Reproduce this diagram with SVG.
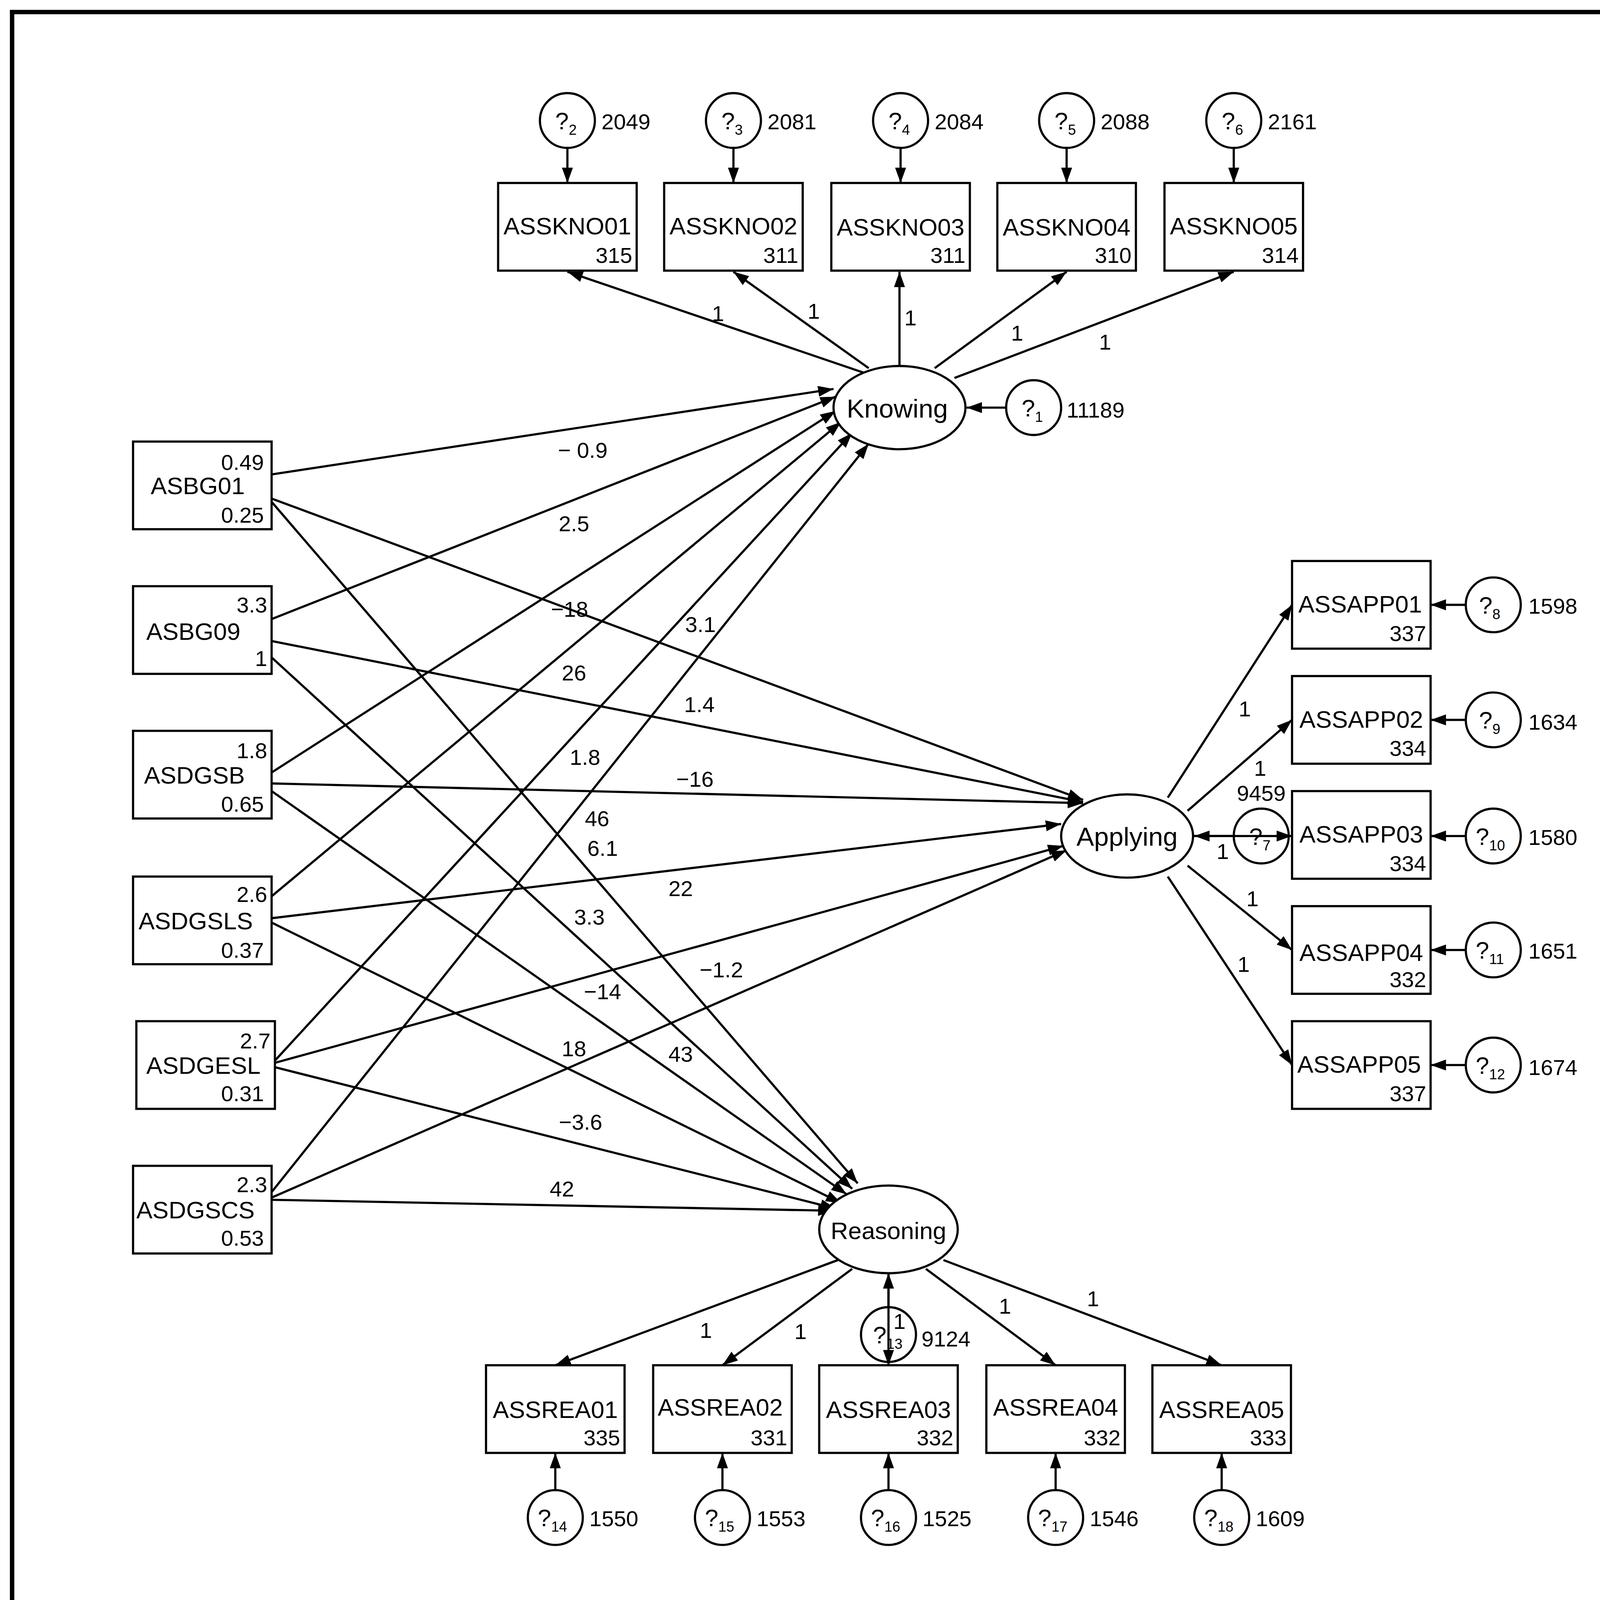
<svg xmlns="http://www.w3.org/2000/svg" width="4400" height="4140" viewBox="0 0 4400 4140">
<defs>
<marker id="ah" viewBox="0 0 14 10" refX="14" refY="5" markerWidth="14" markerHeight="10" markerUnits="userSpaceOnUse" orient="auto"><path d="M0,0 L14,5 L0,10 Z" fill="#000"/></marker>
</defs>
<style>
.b{fill:#fff;stroke:#000;stroke-width:2}
.t{font-family:"Liberation Sans",Arial,sans-serif;font-size:22px;fill:#000}
.L{font-size:24px}
.n{font-family:"Liberation Sans",Arial,sans-serif;font-size:20px;fill:#000}
.e{text-anchor:end}
.m{text-anchor:middle}
.c line{stroke:#000;stroke-width:2;marker-end:url(#ah)}
</style>
<rect width="4400" height="4140" fill="#fff"/>
<g transform="scale(2.815,2.805)">
<rect x="11" y="11" width="1543" height="1453" fill="none" stroke="#000" stroke-width="4"/>
<g class="c" id="connectors">
<line x1="516" y1="135" x2="516" y2="167"/><line x1="667" y1="135" x2="667" y2="167"/><line x1="819" y1="135" x2="819" y2="167"/><line x1="970" y1="135" x2="970" y2="167"/><line x1="1122" y1="135" x2="1122" y2="167"/>
<line x1="915" y1="372" x2="879" y2="372"/>
<line x1="785" y1="340" x2="516" y2="248"/><line x1="790" y1="336" x2="667" y2="248"/><line x1="818" y1="334" x2="818" y2="248"/><line x1="850" y1="336" x2="970" y2="248"/><line x1="868" y1="345" x2="1122" y2="248"/>
<line x1="1062" y1="728" x2="1175" y2="552"/><line x1="1080" y1="740" x2="1175" y2="657"/><line x1="1085" y1="763" x2="1175" y2="763"/><line x1="1122" y1="763" x2="1086" y2="763"/><line x1="1080" y1="790" x2="1175" y2="867"/><line x1="1062" y1="800" x2="1175" y2="972"/>
<line x1="1333" y1="552" x2="1301" y2="552"/><line x1="1333" y1="657" x2="1301" y2="657"/><line x1="1333" y1="763" x2="1301" y2="763"/><line x1="1333" y1="867" x2="1301" y2="867"/><line x1="1333" y1="972" x2="1301" y2="972"/>
<line x1="762" y1="1150" x2="505" y2="1246"/><line x1="775" y1="1158" x2="657" y2="1246"/><line x1="808" y1="1162" x2="808" y2="1246"/><line x1="842" y1="1158" x2="960" y2="1246"/><line x1="858" y1="1150" x2="1111" y2="1246"/>
<line x1="808" y1="1193" x2="808" y2="1162"/>
<line x1="505" y1="1360" x2="505" y2="1326"/><line x1="657" y1="1360" x2="657" y2="1326"/><line x1="808" y1="1360" x2="808" y2="1326"/><line x1="960" y1="1360" x2="960" y2="1326"/><line x1="1111" y1="1360" x2="1111" y2="1326"/>
<line x1="247" y1="433" x2="758" y2="355"/><line x1="247" y1="455" x2="985" y2="730"/><line x1="247" y1="458" x2="780" y2="1080"/>
<line x1="247" y1="565" x2="760" y2="362"/><line x1="247" y1="585" x2="985" y2="732"/><line x1="247" y1="600" x2="775" y2="1085"/>
<line x1="247" y1="705" x2="760" y2="375"/><line x1="247" y1="715" x2="985" y2="733"/><line x1="247" y1="722" x2="770" y2="1090"/>
<line x1="247" y1="818" x2="765" y2="385"/><line x1="247" y1="838" x2="965" y2="752"/><line x1="247" y1="842" x2="765" y2="1098"/>
<line x1="250" y1="968" x2="775" y2="395"/><line x1="250" y1="970" x2="967" y2="772"/><line x1="250" y1="974" x2="760" y2="1103"/>
<line x1="247" y1="1088" x2="790" y2="405"/><line x1="247" y1="1093" x2="970" y2="776"/><line x1="247" y1="1095" x2="758" y2="1105"/>
</g>
<g id="edge-labels" class="n m">
<text x="653" y="293">1</text><text x="740" y="291">1</text><text x="828" y="297">1</text><text x="925" y="311">1</text><text x="1005" y="319">1</text>
<text x="1132" y="654">1</text><text x="1146" y="708">1</text><text x="1112" y="784">1</text><text x="1139" y="827">1</text><text x="1131" y="887">1</text>
<text x="642" y="1221">1</text><text x="728" y="1222">1</text><text x="818" y="1213">1</text><text x="914" y="1199">1</text><text x="994" y="1192">1</text>
<text x="530" y="418">− 0.9</text><text x="522" y="485">2.5</text><text x="518" y="563">−18</text><text x="637" y="577">3.1</text><text x="522" y="621">26</text><text x="636" y="650">1.4</text><text x="532" y="698">1.8</text><text x="632" y="718">−16</text><text x="543" y="754">46</text><text x="548" y="781">6.1</text><text x="619" y="818">22</text><text x="536" y="844">3.3</text><text x="656" y="892">−1.2</text><text x="548" y="912">−14</text><text x="522" y="964">18</text><text x="619" y="969">43</text><text x="528" y="1031">−3.6</text><text x="511" y="1092">42</text>
</g>
<g id="Knowing"><ellipse class="b" cx="818" cy="372" rx="60" ry="38"/><text class="t L m" x="816" y="381">Knowing</text></g>
<g id="Applying"><ellipse class="b" cx="1025" cy="763" rx="60" ry="38"/><text class="t L m" x="1025" y="772">Applying</text></g>
<g id="Reasoning"><ellipse class="b" cx="808" cy="1122" rx="63" ry="40"/><text class="t m" x="808" y="1131">Reasoning</text></g>
<g id="ASSKNO01"><rect class="b" x="453" y="167" width="126" height="80"/><text class="t m" x="516" y="214">ASSKNO01</text><text class="n e" x="575" y="240">315</text></g>
<g id="ASSKNO02"><rect class="b" x="604" y="167" width="126" height="80"/><text class="t m" x="667" y="214">ASSKNO02</text><text class="n e" x="726" y="240">311</text></g>
<g id="ASSKNO03"><rect class="b" x="756" y="167" width="126" height="80"/><text class="t m" x="819" y="215">ASSKNO03</text><text class="n e" x="878" y="240">311</text></g>
<g id="ASSKNO04"><rect class="b" x="907" y="167" width="126" height="80"/><text class="t m" x="970" y="215">ASSKNO04</text><text class="n e" x="1029" y="240">310</text></g>
<g id="ASSKNO05"><rect class="b" x="1059" y="167" width="126" height="80"/><text class="t m" x="1122" y="214">ASSKNO05</text><text class="n e" x="1181" y="240">314</text></g>
<g id="ASSAPP01"><rect class="b" x="1175" y="512" width="126" height="80"/><text class="t m" x="1237" y="559">ASSAPP01</text><text class="n e" x="1297" y="585">337</text></g>
<g id="ASSAPP02"><rect class="b" x="1175" y="617" width="126" height="80"/><text class="t m" x="1238" y="664">ASSAPP02</text><text class="n e" x="1297" y="690">334</text></g>
<g id="ASSAPP03"><rect class="b" x="1175" y="722" width="126" height="80"/><text class="t m" x="1238" y="769">ASSAPP03</text><text class="n e" x="1297" y="795">334</text></g>
<g id="ASSAPP04"><rect class="b" x="1175" y="827" width="126" height="80"/><text class="t m" x="1238" y="877">ASSAPP04</text><text class="n e" x="1297" y="901">332</text></g>
<g id="ASSAPP05"><rect class="b" x="1175" y="932" width="126" height="80"/><text class="t m" x="1236" y="979">ASSAPP05</text><text class="n e" x="1297" y="1005">337</text></g>
<g id="ASSREA01"><rect class="b" x="442" y="1246" width="126" height="80"/><text class="t m" x="505" y="1294">ASSREA01</text><text class="n e" x="564" y="1319">335</text></g>
<g id="ASSREA02"><rect class="b" x="594" y="1246" width="126" height="80"/><text class="t m" x="655" y="1292">ASSREA02</text><text class="n e" x="716" y="1319">331</text></g>
<g id="ASSREA03"><rect class="b" x="745" y="1246" width="126" height="80"/><text class="t m" x="808" y="1294">ASSREA03</text><text class="n e" x="867" y="1319">332</text></g>
<g id="ASSREA04"><rect class="b" x="897" y="1246" width="126" height="80"/><text class="t m" x="960" y="1292">ASSREA04</text><text class="n e" x="1019" y="1319">332</text></g>
<g id="ASSREA05"><rect class="b" x="1048" y="1246" width="126" height="80"/><text class="t m" x="1111" y="1294">ASSREA05</text><text class="n e" x="1170" y="1319">333</text></g>
<g id="ASBG01"><rect class="b" x="121" y="403" width="126" height="80"/><text class="n e" x="240" y="429">0.49</text><text class="t" x="137" y="451">ASBG01</text><text class="n e" x="240" y="477">0.25</text></g>
<g id="ASBG09"><rect class="b" x="121" y="535" width="126" height="80"/><text class="n e" x="243" y="559">3.3</text><text class="t" x="133" y="584">ASBG09</text><text class="n e" x="243" y="608">1</text></g>
<g id="ASDGSB"><rect class="b" x="121" y="667" width="126" height="80"/><text class="n e" x="243" y="692">1.8</text><text class="t" x="131" y="715">ASDGSB</text><text class="n e" x="240" y="741">0.65</text></g>
<g id="ASDGSLS"><rect class="b" x="121" y="800" width="126" height="80"/><text class="n e" x="243" y="823">2.6</text><text class="t" x="126" y="848">ASDGSLS</text><text class="n e" x="240" y="874">0.37</text></g>
<g id="ASDGESL"><rect class="b" x="124" y="932" width="126" height="80"/><text class="n e" x="246" y="957">2.7</text><text class="t" x="133" y="980">ASDGESL</text><text class="n e" x="240" y="1005">0.31</text></g>
<g id="ASDGSCS"><rect class="b" x="121" y="1064" width="126" height="80"/><text class="n e" x="243" y="1088">2.3</text><text class="t" x="124" y="1112">ASDGSCS</text><text class="n e" x="240" y="1137">0.53</text></g>
<g id="e1"><circle class="b" cx="940" cy="372" r="25"/><text class="t" x="929" y="380">?<tspan font-size="13" dy="5">1</tspan></text><text class="n" x="970" y="381">11189</text></g>
<g id="e2"><circle class="b" cx="516" cy="110" r="25"/><text class="t" x="505" y="118">?<tspan font-size="13" dy="5">2</tspan></text><text class="n" x="547" y="118">2049</text></g>
<g id="e3"><circle class="b" cx="667" cy="110" r="25"/><text class="t" x="656" y="118">?<tspan font-size="13" dy="5">3</tspan></text><text class="n" x="698" y="118">2081</text></g>
<g id="e4"><circle class="b" cx="819" cy="110" r="25"/><text class="t" x="808" y="118">?<tspan font-size="13" dy="5">4</tspan></text><text class="n" x="850" y="118">2084</text></g>
<g id="e5"><circle class="b" cx="970" cy="110" r="25"/><text class="t" x="959" y="118">?<tspan font-size="13" dy="5">5</tspan></text><text class="n" x="1001" y="118">2088</text></g>
<g id="e6"><circle class="b" cx="1122" cy="110" r="25"/><text class="t" x="1111" y="118">?<tspan font-size="13" dy="5">6</tspan></text><text class="n" x="1153" y="118">2161</text></g>
<g id="e7"><circle cx="1147" cy="763" r="25" fill="none" stroke="#000" stroke-width="2"/><text class="t" x="1136" y="771">?<tspan font-size="13" dy="5">7</tspan></text><text class="n m" x="1147" y="731">9459</text></g>
<g id="e8"><circle class="b" cx="1358" cy="552" r="25"/><text class="t" x="1345" y="560">?<tspan font-size="13" dy="5">8</tspan></text><text class="n" x="1390" y="560">1598</text></g>
<g id="e9"><circle class="b" cx="1358" cy="657" r="25"/><text class="t" x="1345" y="665">?<tspan font-size="13" dy="5">9</tspan></text><text class="n" x="1390" y="666">1634</text></g>
<g id="e10"><circle class="b" cx="1358" cy="763" r="25"/><text class="t" x="1342" y="771">?<tspan font-size="13" dy="5">10</tspan></text><text class="n" x="1390" y="771">1580</text></g>
<g id="e11"><circle class="b" cx="1358" cy="867" r="25"/><text class="t" x="1342" y="875">?<tspan font-size="13" dy="5">11</tspan></text><text class="n" x="1390" y="875">1651</text></g>
<g id="e12"><circle class="b" cx="1358" cy="972" r="25"/><text class="t" x="1342" y="980">?<tspan font-size="13" dy="5">12</tspan></text><text class="n" x="1390" y="981">1674</text></g>
<g id="e13"><circle cx="808" cy="1218" r="25" fill="none" stroke="#000" stroke-width="2"/><text class="t" x="794" y="1226">?<tspan font-size="13" dy="5">13</tspan></text><text class="n" x="838" y="1229">9124</text></g>
<g id="e14"><circle class="b" cx="505" cy="1385" r="25"/><text class="t" x="489" y="1393">?<tspan font-size="13" dy="5">14</tspan></text><text class="n" x="536" y="1393">1550</text></g>
<g id="e15"><circle class="b" cx="657" cy="1385" r="25"/><text class="t" x="641" y="1393">?<tspan font-size="13" dy="5">15</tspan></text><text class="n" x="688" y="1393">1553</text></g>
<g id="e16"><circle class="b" cx="808" cy="1385" r="25"/><text class="t" x="792" y="1393">?<tspan font-size="13" dy="5">16</tspan></text><text class="n" x="839" y="1393">1525</text></g>
<g id="e17"><circle class="b" cx="960" cy="1385" r="25"/><text class="t" x="944" y="1393">?<tspan font-size="13" dy="5">17</tspan></text><text class="n" x="991" y="1393">1546</text></g>
<g id="e18"><circle class="b" cx="1111" cy="1385" r="25"/><text class="t" x="1095" y="1393">?<tspan font-size="13" dy="5">18</tspan></text><text class="n" x="1142" y="1393">1609</text></g>
</g>
</svg>
